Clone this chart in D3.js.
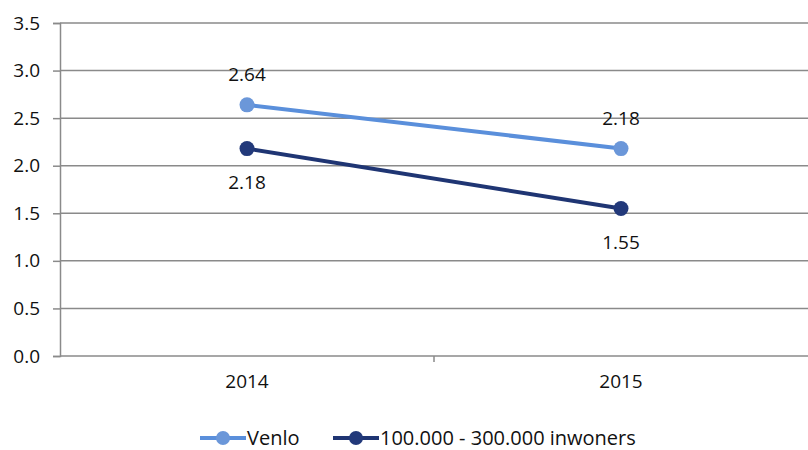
<!DOCTYPE html>
<html><head><meta charset="utf-8">
<script src="https://cdn.jsdelivr.net/npm/d3@7"></script>
<style>body{margin:0;background:#fff}svg{display:block;font-family:"Open Sans",sans-serif}</style>
</head><body><svg id="c" width="808" height="450"></svg>
<script>
const categories = ["2014", "2015"];
const seriesNames = ["Venlo", "100.000 - 300.000 inwoners"];
const venlo = [2.64, 2.18];
const region = [2.18, 1.55];
const yTicks = [0, 0.5, 1, 1.5, 2, 2.5, 3, 3.5];
const colors = ["#5a8fdb", "#1f3573"];
const markerColors = ["#6b97d9", "#22397a"];
const labelPos = [[-1, -1], [1, 1]]; // -1 above, 1 below

const FS = 19;
const svg = d3.select("#c");
const L = 60, R = 808, T = 23, B = 356;
const x = d3.scaleBand().domain(categories).range([L, R]);
const y = d3.scaleLinear().domain([0, 3.5]).range([B, T]);

svg.append("g").selectAll("line").data(yTicks).join("line")
  .attr("x1", L).attr("x2", R).attr("y1", d => y(d)).attr("y2", d => y(d))
  .attr("stroke", "#8a8a8a").attr("stroke-width", 1.5);

const ya = svg.append("g").attr("transform", `translate(${L},0)`)
  .call(d3.axisLeft(y).tickValues(yTicks).tickFormat(d3.format(".1f")).tickSize(7).tickPadding(13));
ya.select(".domain").attr("stroke", "#8a8a8a").attr("stroke-width", 1.5);
ya.selectAll(".tick line").attr("stroke", "#8a8a8a").attr("stroke-width", 1.5);
ya.selectAll("text").attr("font-size", FS).attr("fill", "#111").attr("font-family", "'Open Sans',sans-serif");

const xa = svg.append("g").attr("transform", `translate(0,${B})`)
  .call(d3.axisBottom(x).tickSize(0).tickPadding(19));
xa.select(".domain").remove();
xa.selectAll("text").attr("font-size", FS).attr("fill", "#111").attr("font-family", "'Open Sans',sans-serif");
svg.append("g").selectAll("line").data(categories.slice(1)).join("line")
  .attr("x1", d => x(d)).attr("x2", d => x(d)).attr("y1", B).attr("y2", B + 6)
  .attr("stroke", "#8a8a8a").attr("stroke-width", 1.5);

const data = [venlo, region];
const line = d3.line().x((d, i) => x(categories[i]) + x.bandwidth() / 2).y(d => y(d));
data.forEach((vals, s) => {
  const g = svg.append("g");
  g.append("path").datum(vals).attr("d", line).attr("fill", "none")
    .attr("stroke", colors[s]).attr("stroke-width", 4);
  g.selectAll("circle").data(vals).join("circle")
    .attr("cx", (d, i) => x(categories[i]) + x.bandwidth() / 2).attr("cy", d => y(d))
    .attr("r", 7.5).attr("fill", markerColors[s]);
  g.selectAll("text").data(vals).join("text")
    .attr("x", (d, i) => x(categories[i]) + x.bandwidth() / 2)
    .attr("y", (d, i) => y(d) + (labelPos[s][i] < 0 ? -24 : 40))
    .attr("text-anchor", "middle").attr("font-size", FS).attr("fill", "#111")
    .text(d => d3.format(".2f")(d));
});

const legX = [200, 333];
const lg = svg.append("g");
seriesNames.forEach((n, s) => {
  const gx = legX[s], gy = 438;
  lg.append("line").attr("x1", gx).attr("x2", gx + 46).attr("y1", gy).attr("y2", gy)
    .attr("stroke", colors[s]).attr("stroke-width", 4);
  lg.append("circle").attr("cx", gx + 23).attr("cy", gy).attr("r", 7).attr("fill", markerColors[s]);
  lg.append("text").attr("x", gx + 47).attr("y", gy + 7).attr("font-size", 20).attr("fill", "#111").text(n);
});
</script></body></html>
